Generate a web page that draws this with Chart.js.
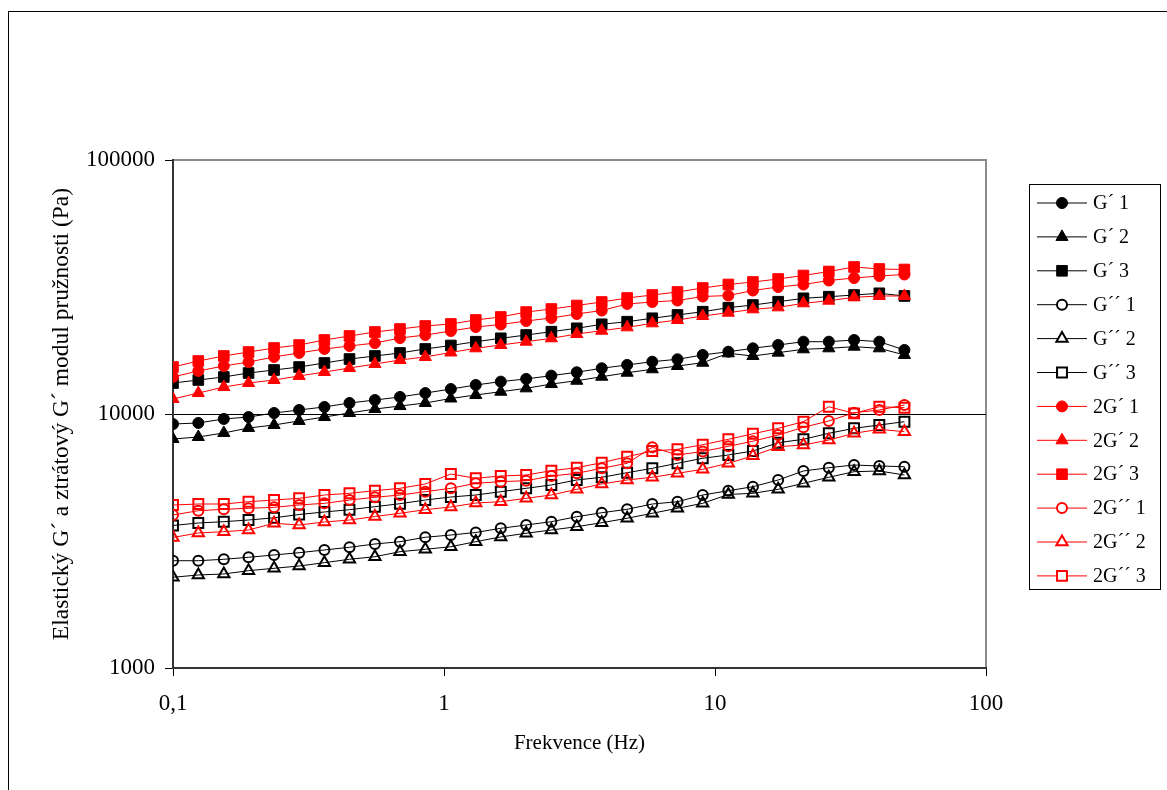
<!DOCTYPE html>
<html>
<head>
<meta charset="utf-8">
<script src="https://cdn.jsdelivr.net/npm/chart.js@4.4.1/dist/chart.umd.min.js"></script>
<style>
  html, body { margin: 0; padding: 0; background: #fff; }
  #wrap { position: relative; width: 1167px; height: 790px; }
</style>
</head>
<body>
<div id="wrap"><canvas id="modulusChart" width="1167" height="790"></canvas></div>
<script>
// frekvence (Hz)
const frequency = [0.1, 0.124, 0.154, 0.19, 0.236, 0.292, 0.362, 0.448, 0.556, 0.688,
  0.853, 1.06, 1.31, 1.62, 2.01, 2.49, 3.09, 3.82, 4.74, 5.87,
  7.27, 9.01, 11.2, 13.8, 17.1, 21.2, 26.3, 32.6, 40.4, 50];

// G' (Pa)
const gP1 = [9130, 9220, 9560, 9730, 10090, 10370, 10660, 11050, 11350, 11670,
  12090, 12540, 13010, 13410, 13740, 14160, 14600, 15140, 15600, 16070,
  16420, 17080, 17590, 18140, 18690, 19260, 19260, 19560, 19260, 17870];
const gP2 = [7970, 8120, 8420, 8810, 9050, 9390, 9730, 10090, 10460, 10750,
  11050, 11510, 11880, 12240, 12620, 13120, 13520, 14020, 14540, 15000,
  15450, 15920, 17340, 16920, 17440, 17980, 18140, 18410, 18140, 17080];
const gP3 = [13240, 13610, 13990, 14500, 14900, 15310, 15880, 16460, 16920, 17390,
  18030, 18610, 19260, 19860, 20460, 21090, 21750, 22550, 23090, 23820,
  24540, 25280, 26210, 26860, 27680, 28540, 28960, 29410, 29870, 29150];

// G'' (Pa)
const gPP1 = [2645, 2645, 2679, 2728, 2786, 2844, 2915, 2987, 3078, 3143,
  3271, 3339, 3416, 3548, 3656, 3767, 3942, 4087, 4215, 4422,
  4515, 4798, 4989, 5173, 5498, 5965, 6146, 6299, 6242, 6202];
const gPP2 = [2276, 2324, 2345, 2416, 2469, 2521, 2598, 2679, 2743, 2870,
  2933, 3003, 3143, 3280, 3392, 3494, 3600, 3733, 3885, 4066,
  4253, 4450, 4821, 4873, 5052, 5336, 5634, 5927, 5965, 5752];
const gPP3 = [3639, 3723, 3767, 3825, 3902, 4021, 4114, 4200, 4315, 4435,
  4585, 4712, 4798, 4944, 5099, 5255, 5498, 5634, 5874, 6112,
  6397, 6694, 6897, 7150, 7709, 7950, 8395, 8783, 9051, 9326];

// 2G' (Pa)
const g2P1 = [13990, 14770, 15450, 16020, 16770, 17390, 18030, 18520, 19030, 19910,
  20460, 21220, 22000, 22510, 23230, 23880, 24760, 25550, 27110, 27600,
  27980, 29010, 29270, 30630, 31620, 32350, 33540, 34310, 34940, 35420];
const g2P2 = [11460, 12090, 12770, 13240, 13610, 14120, 14630, 15170, 15730, 16320,
  16770, 17470, 18140, 18690, 19260, 19860, 20650, 21280, 21940, 22750,
  23450, 24310, 25050, 25830, 26300, 27280, 27930, 28800, 29150, 29150];
const g2P3 = [15310, 16170, 16920, 17540, 18190, 18690, 19560, 20280, 21030, 21610,
  22210, 22620, 23450, 24100, 25200, 25900, 26740, 27600, 28620, 29410,
  30220, 31340, 32350, 33090, 34000, 35100, 36390, 37910, 37230, 37060];

// 2G'' (Pa)
const g2PP1 = [4003, 4162, 4215, 4253, 4292, 4382, 4450, 4585, 4699, 4798,
  4944, 5099, 5336, 5414, 5463, 5700, 5841, 6112, 6397, 7394,
  6897, 7119, 7461, 7814, 8266, 8862, 9385, 10120, 10370, 10850];
const g2PP2 = [3265, 3401, 3441, 3494, 3713, 3656, 3757, 3825, 3949, 4066,
  4200, 4304, 4462, 4515, 4657, 4798, 5052, 5302, 5498, 5634,
  5841, 6057, 6397, 6846, 7435, 7551, 7899, 8395, 8705, 8518];
const g2PP3 = [4382, 4422, 4422, 4515, 4585, 4657, 4798, 4873, 4989, 5099,
  5302, 5804, 5583, 5700, 5752, 5981, 6146, 6432, 6791, 7150,
  7261, 7570, 7950, 8356, 8783, 9326, 10680, 10060, 10680, 10590];

const seriesNames = ['G\u00b4 1', 'G\u00b4 2', 'G\u00b4 3', 'G\u00b4\u00b4 1', 'G\u00b4\u00b4 2', 'G\u00b4\u00b4 3',
  '2G\u00b4 1', '2G\u00b4 2', '2G\u00b4 3', '2G\u00b4\u00b4 1', '2G\u00b4\u00b4 2', '2G\u00b4\u00b4 3'];
const seriesValues = [gP1, gP2, gP3, gPP1, gPP2, gPP3, g2P1, g2P2, g2P3, g2PP1, g2PP2, g2PP3];

const xTickValues = [0.1, 1, 10, 100];
const xTickLabels = ['0,1', '1', '10', '100'];
const yTickValues = [1000, 10000, 100000];

const FONT = "'Liberation Serif', 'Times New Roman', serif";
const markerShapes = ['circle', 'triangle', 'rect'];
const markerRadius = { circle: 5.5, triangle: 7, rect: 7.5 };

function makeDataset(name, values, i) {
  const color = i < 6 ? '#000000' : '#ff0000';
  const shape = markerShapes[i % 3];
  const hollow = (i % 6) >= 3;
  return {
    label: name,
    data: frequency.map((f, k) => ({ x: f, y: values[k] })),
    borderColor: color,
    borderWidth: 1,
    pointStyle: shape,
    pointRadius: hollow ? markerRadius[shape] - 0.5 : markerRadius[shape],
    pointBorderWidth: hollow ? 2 : 1,
    pointBorderColor: color,
    pointBackgroundColor: hollow ? 'rgba(0,0,0,0)' : color,
    hollow: hollow,
    tension: 0,
    order: seriesNames.length - i
  };
}

function markerPath(ctx, shape, r, x, y) {
  ctx.beginPath();
  if (shape === 'circle') {
    ctx.arc(x, y, r, 0, Math.PI * 2);
  } else if (shape === 'triangle') {
    ctx.moveTo(x, y - r);
    ctx.lineTo(x + Math.sin(Math.PI * 2 / 3) * r, y - Math.cos(Math.PI * 2 / 3) * r);
    ctx.lineTo(x + Math.sin(Math.PI * 4 / 3) * r, y - Math.cos(Math.PI * 4 / 3) * r);
  } else {
    const s = Math.SQRT1_2 * r;
    ctx.rect(x - s, y - s, 2 * s, 2 * s);
  }
  ctx.closePath();
}

const frameAndLegend = {
  id: 'frameAndLegend',
  beforeDraw(chart) {
    const { ctx, chartArea: a } = chart;
    ctx.save();
    ctx.fillStyle = '#fff';
    ctx.fillRect(0, 0, chart.width, chart.height);
    ctx.strokeStyle = '#000';
    ctx.lineWidth = 1;
    ctx.strokeRect(8.5, 11.5, 1200, 900);
    ctx.strokeStyle = '#8c8c8c';
    ctx.lineWidth = 2;
    ctx.strokeRect(a.left, a.top, a.right - a.left, a.bottom - a.top);
    ctx.restore();
  },
  afterDraw(chart) {
    const ctx = chart.ctx;
    ctx.save();
    ctx.strokeStyle = '#000';
    ctx.lineWidth = 1;
    ctx.strokeRect(1029.5, 184.5, 131, 405);
    ctx.font = '20px ' + FONT;
    ctx.textBaseline = 'middle';
    ctx.textAlign = 'left';
    chart.data.datasets.forEach((ds, i) => {
      const y = 203 + i * 33.9;
      ctx.strokeStyle = ds.borderColor;
      ctx.lineWidth = 1;
      ctx.beginPath();
      ctx.moveTo(1037, y);
      ctx.lineTo(1087, y);
      ctx.stroke();
      markerPath(ctx, ds.pointStyle, ds.pointRadius, 1062, y);
      ctx.fillStyle = ds.hollow ? '#fff' : ds.borderColor;
      ctx.fill();
      ctx.lineWidth = ds.pointBorderWidth;
      ctx.stroke();
      ctx.fillStyle = '#000';
      ctx.fillText(ds.label, 1093, y + 1);
    });
    ctx.restore();
  }
};

function renderModulusChart() {
  const canvas = document.getElementById('modulusChart');
  new Chart(canvas, {
    type: 'line',
    data: { datasets: seriesNames.map((n, i) => makeDataset(n, seriesValues[i], i)) },
    options: {
      responsive: false,
      animation: false,
      events: [],
      layout: { padding: { left: 0, top: 160, right: 181, bottom: 0 } },
      plugins: { legend: { display: false }, tooltip: { enabled: false } },
      scales: {
        x: {
          type: 'logarithmic',
          min: 0.1,
          max: 100,
          afterBuildTicks: (scale) => { scale.ticks = xTickValues.map(v => ({ value: v })); },
          afterFit: (scale) => { scale.height = 122; },
          grid: { drawOnChartArea: false, color: '#000', tickColor: '#000', tickLength: 8 },
          border: { color: '#333', width: 2 },
          ticks: {
            autoSkip: false, maxRotation: 0, padding: 14, color: '#000',
            font: { family: FONT, size: 23 },
            callback: (v) => xTickLabels[xTickValues.indexOf(v)]
          },
          title: {
            display: true, text: 'Frekvence (Hz)', color: '#000',
            font: { family: FONT, size: 21 }, padding: { top: 0, bottom: 34 }
          }
        },
        y: {
          type: 'logarithmic',
          min: 1000,
          max: 100000,
          afterBuildTicks: (scale) => { scale.ticks = yTickValues.map(v => ({ value: v })); },
          afterFit: (scale) => { scale.width = 173; },
          grid: {
            color: (c) => (c.tick && c.tick.value === 10000 ? '#000' : 'rgba(0,0,0,0)'),
            tickColor: '#000', tickLength: 8, lineWidth: 1
          },
          border: { color: '#333', width: 2 },
          ticks: {
            padding: 10, color: '#000',
            font: { family: FONT, size: 23 },
            callback: (v) => String(v)
          },
          title: {
            display: true, text: 'Elastick\u00fd G\u00b4 a ztr\u00e1tov\u00fd G\u00b4 modul pru\u017enosti (Pa)', color: '#000',
            font: { family: FONT, size: 23.5 }, padding: { top: 48, bottom: 0 }
          }
        }
      }
    },
    plugins: [frameAndLegend]
  });
}

window.addEventListener('load', renderModulusChart);
</script>
</body>
</html>
